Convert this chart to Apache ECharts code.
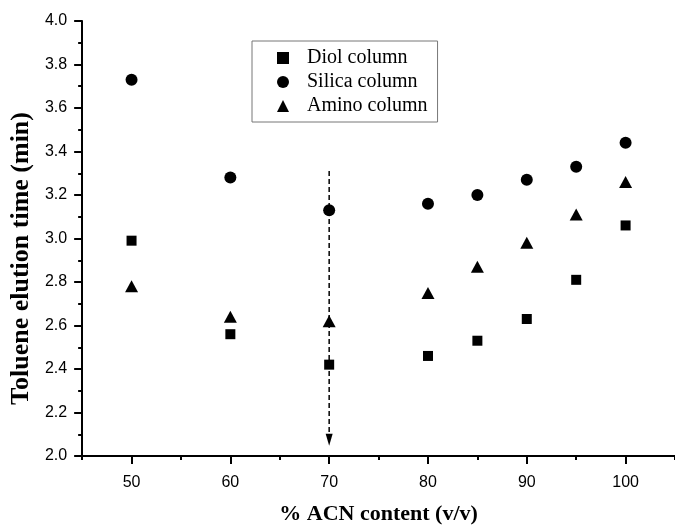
<!DOCTYPE html>
<html>
<head>
<meta charset="utf-8">
<script src="https://cdn.jsdelivr.net/npm/echarts@6/dist/echarts.min.js"></script>
<style>
  html, body { margin: 0; padding: 0; background: #fff; }
  #chart { width: 675px; height: 530px; }
</style>
</head>
<body>
<div id="chart"></div>
<script>
// % ACN content (v/v)
const acn = [50, 60, 70, 80, 85, 90, 95, 100];
// toluene elution time (min) per column
const diol = [2.99, 2.56, 2.42, 2.46, 2.53, 2.63, 2.81, 3.06];
const silica = [3.73, 3.28, 3.13, 3.16, 3.20, 3.27, 3.33, 3.44];
const amino = [2.78, 2.64, 2.62, 2.75, 2.87, 2.98, 3.11, 3.26];
// dashed arrow at 70 %
const arrowX = 70;
const arrowTop = 3.31;
const arrowEnd = 2.10;
const arrowTip = 2.075;
// tick labels
const xLabels = [50, 60, 70, 80, 90, 100];
const xMinor = [45, 55, 65, 75, 85, 95, 105];

const pairs = (ys) => acn.map((x, i) => [x, ys[i]]);
const serif = 'Liberation Serif, Times New Roman, serif';
const sans = 'Liberation Sans, Arial, sans-serif';
const black = { color: '#000', opacity: 1 };

const chart = echarts.init(document.getElementById('chart'));
chart.setOption({
  animation: false,
  backgroundColor: '#fff',
  grid: { left: 82, top: 21, right: -6, bottom: 57 },
  legend: {
    data: ['Diol column', 'Silica column', 'Amino column'],
    orient: 'vertical',
    left: 252,
    top: 41,
    padding: [7, 10, 6, 25],
    itemGap: 4,
    itemWidth: 12,
    itemHeight: 12,
    borderColor: '#777',
    borderWidth: 1,
    textStyle: { fontFamily: serif, fontSize: 20, color: '#000', padding: [0, 0, 0, 13] },
  },
  xAxis: [
    {
      type: 'value',
      min: 45,
      max: 105,
      interval: 5,
      axisLine: { lineStyle: { color: '#000', width: 2 } },
      axisTick: { customValues: xLabels, length: 8, lineStyle: { color: '#000', width: 2 } },
      axisLabel: { customValues: xLabels, margin: 19, fontFamily: sans, fontSize: 16, color: '#000' },
      splitLine: { show: false },
      name: '% ACN content (v/v)',
      nameLocation: 'middle',
      nameGap: 47,
      nameTextStyle: { fontFamily: serif, fontSize: 22, fontWeight: 'bold', color: '#000' },
    },
    {
      type: 'value',
      min: 45,
      max: 105,
      position: 'bottom',
      axisLine: { show: false },
      axisTick: { customValues: xMinor, length: 4, lineStyle: { color: '#000', width: 2 } },
      axisLabel: { show: false },
      splitLine: { show: false },
    },
  ],
  yAxis: {
    type: 'value',
    min: 2.0,
    max: 4.0,
    interval: 0.2,
    axisLine: { show: true, lineStyle: { color: '#000', width: 2 } },
    axisTick: { show: true, length: 8, lineStyle: { color: '#000', width: 2 } },
    minorTick: { show: true, splitNumber: 2, length: 4, lineStyle: { color: '#000', width: 2 } },
    axisLabel: {
      margin: 15, fontFamily: sans, fontSize: 16, color: '#000',
      formatter: (v) => v.toFixed(1),
    },
    splitLine: { show: false },
    name: 'Toluene elution time (min)',
    nameLocation: 'middle',
    nameGap: 46,
    nameTextStyle: {
      fontFamily: serif, fontSize: 26, fontWeight: 'bold', color: '#000',
      padding: [0, 40, 0, 0],
    },
  },
  series: [
    {
      name: 'Arrow',
      type: 'line',
      data: [[arrowX, arrowTop], [arrowX, arrowEnd]],
      symbol: 'none',
      lineStyle: { color: '#000', width: 1.5, type: [5, 3] },
      z: 1,
    },
    {
      name: 'Arrow head',
      type: 'scatter',
      data: [[arrowX, arrowTip]],
      symbol: 'triangle',
      symbolRotate: 180,
      symbolSize: [7, 12],
      itemStyle: black,
      z: 1,
    },
    {
      name: 'Diol column',
      type: 'scatter',
      data: pairs(diol),
      symbol: 'rect',
      symbolSize: 10,
      itemStyle: black,
    },
    {
      name: 'Silica column',
      type: 'scatter',
      data: pairs(silica),
      symbol: 'circle',
      symbolSize: 12,
      itemStyle: black,
    },
    {
      name: 'Amino column',
      type: 'scatter',
      data: pairs(amino),
      symbol: 'triangle',
      symbolSize: [13, 12],
      itemStyle: black,
    },
  ],
});
</script>
</body>
</html>
